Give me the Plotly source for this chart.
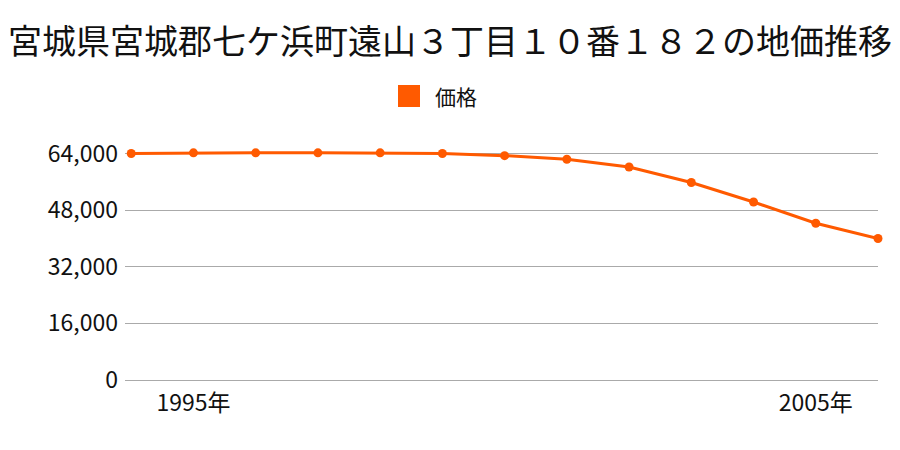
import plotly.graph_objects as go

years = [1994, 1995, 1996, 1997, 1998, 1999, 2000, 2001, 2002, 2003, 2004, 2005, 2006]
prices = [64000, 64200, 64200, 64200, 64200, 64000, 63400, 62400, 60200, 55800, 50300, 44300, 40000]
tick_vals = [1995, 2005]
tick_text = ["1995年", "2005年"]
title = "宮城県宮城郡七ケ浜町遠山３丁目１０番１８２の地価推移"
legend_name = "価格"

# page is rendered with an 8px body offset; figure sized to fit the 900x450 window
W, H = 892, 442
OFF = 8
font = "Noto Sans CJK JP"
color = "#ff5a00"

plot_left, plot_right = 125 - OFF, 878 - OFF
plot_top, plot_bottom = 150 - OFF, 380 - OFF
pw = plot_right - plot_left
ph = plot_bottom - plot_top

def px_x(x):
    return (x - OFF - plot_left) / pw

def px_y(y):
    return (plot_bottom - (y - OFF)) / ph

fig = go.Figure()
fig.add_trace(go.Scatter(
    x=years, y=prices, mode="lines+markers", name=legend_name, showlegend=False,
    line=dict(color=color, width=3),
    marker=dict(color=color, size=9),
    cliponaxis=False,
))

# legend drawn manually (square swatch + text)
fig.add_shape(type="rect", xref="paper", yref="paper",
              x0=px_x(398), x1=px_x(420), y0=px_y(107), y1=px_y(85),
              line=dict(width=0), fillcolor=color)
fig.add_annotation(text=legend_name, xref="paper", yref="paper",
                   x=px_x(433), y=px_y(96), xanchor="left", yanchor="middle",
                   showarrow=False, font=dict(size=21, family=font, color="#111"))

fig.update_layout(
    width=W, height=H,
    paper_bgcolor="white", plot_bgcolor="white",
    font=dict(family=font, color="#111"),
    title=dict(text=title, x=(450 - OFF) / W, xanchor="center", xref="container",
               y=1 - (42 - OFF) / H, yanchor="middle", yref="container",
               font=dict(size=34, family=font, color="#111")),
    showlegend=False,
    margin=dict(l=plot_left, r=W - plot_right, t=plot_top, b=H - plot_bottom, autoexpand=False),
    xaxis=dict(range=[1993.9, 2006], tickvals=tick_vals, ticktext=tick_text,
               showgrid=False, zeroline=False, showline=False, automargin=False,
               tickfont=dict(size=23, family=font), ticks="", ticklabelstandoff=7),
    yaxis=dict(range=[0, 65000], tickvals=[0, 16000, 32000, 48000, 64000],
               tickformat=",d", showgrid=True, gridcolor="#aaaaaa", gridwidth=1,
               zeroline=True, zerolinecolor="#aaaaaa", zerolinewidth=1, automargin=False,
               tickfont=dict(size=23, family=font), ticks="", ticklabelstandoff=6),
)
fig.write_html("out.html")
